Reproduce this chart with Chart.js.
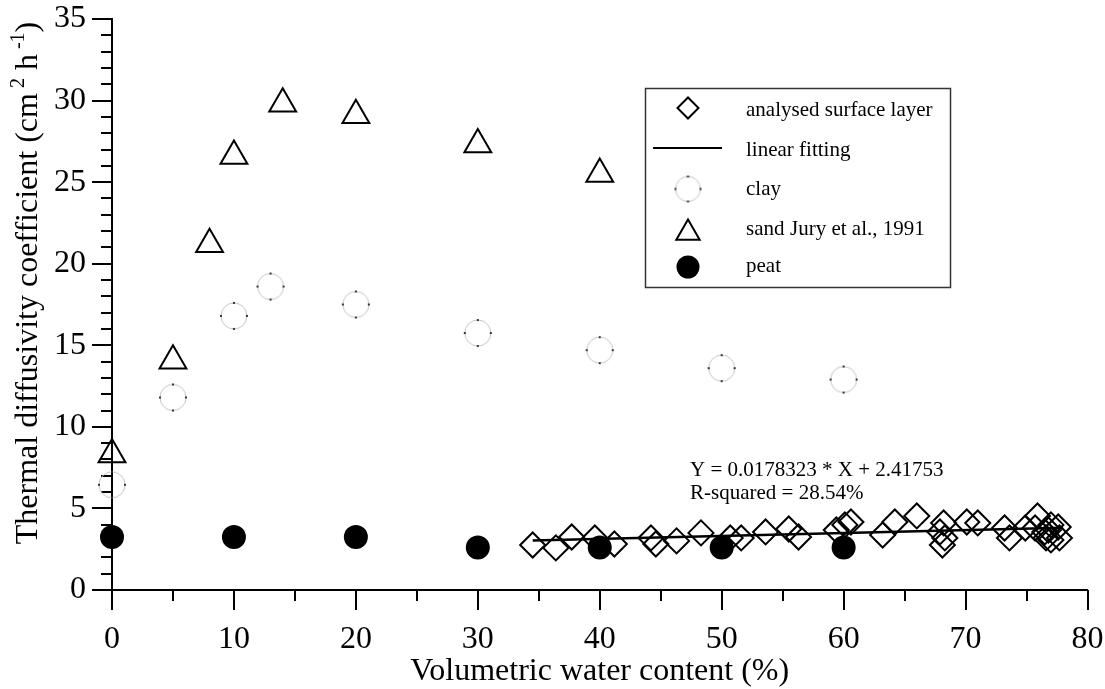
<!DOCTYPE html>
<html>
<head>
<meta charset="utf-8">
<script src="https://cdn.jsdelivr.net/npm/chart.js@4.4.0/dist/chart.umd.min.js"></script>
<style>
  html, body { margin: 0; padding: 0; background: #fff; }
  #wrap { width: 1105px; height: 689px; }
</style>
</head>
<body>
<div id="wrap"><canvas id="chart"></canvas></div>
<script>
// --- data ---
const surfaceX = [34.5, 36.4, 37.7, 39.6, 41.2, 44.2, 44.6, 46.3, 48.3, 50.7, 51.6, 53.6, 55.5, 56.3, 59.4, 60.1, 60.6,
                  63.2, 64.2, 66.0, 67.9, 68.1, 68.2, 68.3, 70.1, 71.0, 73.2, 73.6, 74.9, 75.7, 75.9, 76.5, 76.6,
                  76.8, 77.0, 77.0, 77.6, 77.7];
const surfaceY = [2.76, 2.58, 3.25, 3.19, 2.82, 3.19, 2.82, 3.01, 3.50, 3.19, 3.19, 3.56, 3.74, 3.25, 3.68, 3.99, 4.17,
                  3.37, 4.17, 4.54, 3.56, 2.76, 4.11, 3.19, 4.17, 4.11, 3.80, 3.19, 3.80, 3.80, 4.54, 3.56, 3.19,
                  3.68, 3.99, 3.07, 3.86, 3.19];
const fitX = [34.5, 78.0];
const fitY = [3.03, 3.81];
const clayX = [0, 5, 10, 13, 20, 30, 40, 50, 60];
const clayY = [6.45, 11.8, 16.8, 18.6, 17.5, 15.75, 14.7, 13.6, 12.9];
const sandX = [0, 5, 8, 10, 14, 20, 30, 40];
const sandY = [8.3, 14.05, 21.2, 26.6, 29.8, 29.1, 27.3, 25.5];
const peatX = [0, 10, 20, 30, 40, 50, 60];
const peatY = [3.25, 3.25, 3.25, 2.6, 2.6, 2.6, 2.6];

const fitText = ['Y = 0.0178323 * X + 2.41753', 'R-squared = 28.54%'];
const juryText = 'Jury et al., 1991';
const xTitle = 'Volumetric water content (%)';

const xMin = 0, xMax = 80, xStep = 10, xMinor = 5;
const yMin = 0, yMax = 35, yStep = 5, yMinor = 1;

const serif = "'Liberation Serif', 'Times New Roman', serif";

function pts(xs, ys) {
    return xs.map((x, i) => ({ x: x, y: ys[i] }));
}

// dotted light circle used for "clay"
function makeClayMarker(r) {
    const c = document.createElement('canvas');
    const s = Math.ceil(r * 2 + 4);
    c.width = s; c.height = s;
    const g = c.getContext('2d');
    const m = s / 2;
    g.strokeStyle = '#c4c4c4';
    g.lineWidth = 1;
    g.beginPath();
    g.arc(m, m, r, 0, Math.PI * 2);
    g.stroke();
    g.fillStyle = '#333';
    g.fillRect(m - 1, m - r - 1, 2, 2);
    g.fillRect(m - 1, m + r - 1, 2, 2);
    g.fillRect(m - r - 1, m - 1, 2, 2);
    g.fillRect(m + r - 1, m - 1, 2, 2);
    return c;
}
const clayMarker = makeClayMarker(13);
const clayLegendMarker = makeClayMarker(12.5);

// --- ticks (major + minor), axis titles ---
const axisDecor = {
    id: 'axisDecor',
    beforeDatasetsDraw(chart) {
        const { ctx, scales: { x, y } } = chart;
        ctx.save();
        ctx.strokeStyle = '#000';
        ctx.lineWidth = 2;
        ctx.beginPath();
        for (let v = xMin; v <= xMax; v += xMinor) {
            const px = Math.round(x.getPixelForValue(v));
            const len = v % xStep === 0 ? 20 : 11;
            ctx.moveTo(px, y.bottom);
            ctx.lineTo(px, y.bottom + len);
        }
        for (let v = yMin; v <= yMax; v += yMinor) {
            const py = Math.round(y.getPixelForValue(v));
            const len = v % yStep === 0 ? 20 : 11;
            ctx.moveTo(x.left, py);
            ctx.lineTo(x.left - len, py);
        }
        ctx.stroke();

        // x title
        ctx.fillStyle = '#000';
        ctx.font = '32px ' + serif;
        ctx.textAlign = 'center';
        ctx.textBaseline = 'alphabetic';
        ctx.fillText(xTitle, (x.left + x.right) / 2, 680);

        // y title with superscripts
        const parts = [
            { t: 'Thermal diffusivity coefficient (cm', sup: false },
            { t: ' 2', sup: true },
            { t: ' h', sup: false },
            { t: ' -1', sup: true },
            { t: ')', sup: false }
        ];
        const big = '32px ' + serif, small = '20px ' + serif;
        let total = 0;
        parts.forEach(p => { ctx.font = p.sup ? small : big; p.w = ctx.measureText(p.t).width; total += p.w; });
        ctx.translate(37, 283);
        ctx.rotate(-Math.PI / 2);
        ctx.textAlign = 'left';
        let cx = -total / 2;
        parts.forEach(p => {
            ctx.font = p.sup ? small : big;
            ctx.fillText(p.t, cx, p.sup ? -13 : 0);
            cx += p.w;
        });
        ctx.restore();
    },
    afterDraw(chart) {
        const ctx = chart.ctx;
        ctx.save();
        ctx.fillStyle = '#000';
        ctx.font = '21px ' + serif;
        ctx.textAlign = 'left';
        ctx.textBaseline = 'alphabetic';
        ctx.fillText(fitText[0], 690, 476);
        ctx.fillText(fitText[1], 690, 499);

        // legend box
        ctx.strokeStyle = '#333';
        ctx.lineWidth = 1.5;
        ctx.strokeRect(645.5, 88.5, 305, 199);

        const mx = 688, tx = 746;
        const rows = [108, 148, 189, 231, 267];
        const ds = chart.data.datasets;
        const dp = Chart.helpers.drawPoint;

        // diamond
        ctx.strokeStyle = '#000';
        ctx.fillStyle = 'rgba(0,0,0,0)';
        ctx.lineWidth = 2;
        dp(ctx, { pointStyle: ds[0].pointStyle, radius: 10.5, rotation: 0, borderWidth: 2 }, mx, rows[0]);
        // line
        ctx.beginPath();
        ctx.moveTo(653, rows[1]);
        ctx.lineTo(722, rows[1]);
        ctx.stroke();
        // clay
        ctx.drawImage(clayLegendMarker, mx - clayLegendMarker.width / 2, rows[2] - clayLegendMarker.height / 2);
        // sand
        ctx.fillStyle = 'rgba(0,0,0,0)';
        dp(ctx, { pointStyle: ds[3].pointStyle, radius: 13.5, rotation: 0, borderWidth: 2 }, mx, rows[3] + 2);
        // peat
        ctx.fillStyle = '#000';
        dp(ctx, { pointStyle: ds[4].pointStyle, radius: 11.5, rotation: 0, borderWidth: 0 }, mx, rows[4]);

        ctx.fillStyle = '#000';
        const baselines = [116, 156, 195, 235, 272];
        ds.forEach((d, i) => ctx.fillText(d.label, tx, baselines[i]));
        ctx.fillText(juryText, 790, 235);
        ctx.restore();
    }
};

new Chart(document.getElementById('chart'), {
    type: 'scatter',
    data: {
        datasets: [
            {
                label: 'analysed surface layer',
                data: pts(surfaceX, surfaceY),
                pointStyle: 'rectRot',
                pointRadius: 12.5,
                borderColor: '#000',
                backgroundColor: 'rgba(0,0,0,0)',
                borderWidth: 2,
                clip: false
            },
            {
                label: 'linear fitting',
                data: pts(fitX, fitY),
                showLine: true,
                pointRadius: 0,
                borderColor: '#000',
                borderWidth: 2.5,
                clip: false
            },
            {
                label: 'clay',
                data: pts(clayX, clayY),
                pointStyle: clayMarker,
                pointRadius: 13,
                borderColor: '#c4c4c4',
                backgroundColor: 'rgba(0,0,0,0)',
                clip: false
            },
            {
                label: 'sand',
                data: pts(sandX, sandY),
                pointStyle: 'triangle',
                pointRadius: 15.5,
                borderColor: '#000',
                backgroundColor: 'rgba(0,0,0,0)',
                borderWidth: 2,
                clip: false
            },
            {
                label: 'peat',
                data: pts(peatX, peatY),
                pointStyle: 'circle',
                pointRadius: 12,
                borderColor: '#000',
                backgroundColor: '#000',
                borderWidth: 0,
                clip: false
            }
        ]
    },
    options: {
        responsive: true,
        maintainAspectRatio: false,
        animation: false,
        events: [],
        layout: { padding: { top: 19, right: 15, left: 0, bottom: 0 } },
        plugins: {
            legend: { display: false },
            tooltip: { enabled: false }
        },
        scales: {
            x: {
                type: 'linear',
                min: xMin,
                max: xMax,
                grid: { display: false },
                border: { display: true, color: '#000', width: 2 },
                ticks: {
                    stepSize: xStep,
                    padding: 22,
                    color: '#000',
                    font: { family: serif, size: 32 }
                },
                afterFit: s => { s.height = 99; s.paddingLeft = 0; s.paddingRight = 0; }
            },
            y: {
                type: 'linear',
                min: yMin,
                max: yMax,
                grid: { display: false },
                border: { display: true, color: '#000', width: 2 },
                ticks: {
                    stepSize: yStep,
                    padding: 18,
                    color: '#000',
                    font: { family: serif, size: 32 }
                },
                afterFit: s => { s.width = 112; s.paddingTop = 0; s.paddingBottom = 0; }
            }
        }
    },
    plugins: [axisDecor]
});
</script>
</body>
</html>
